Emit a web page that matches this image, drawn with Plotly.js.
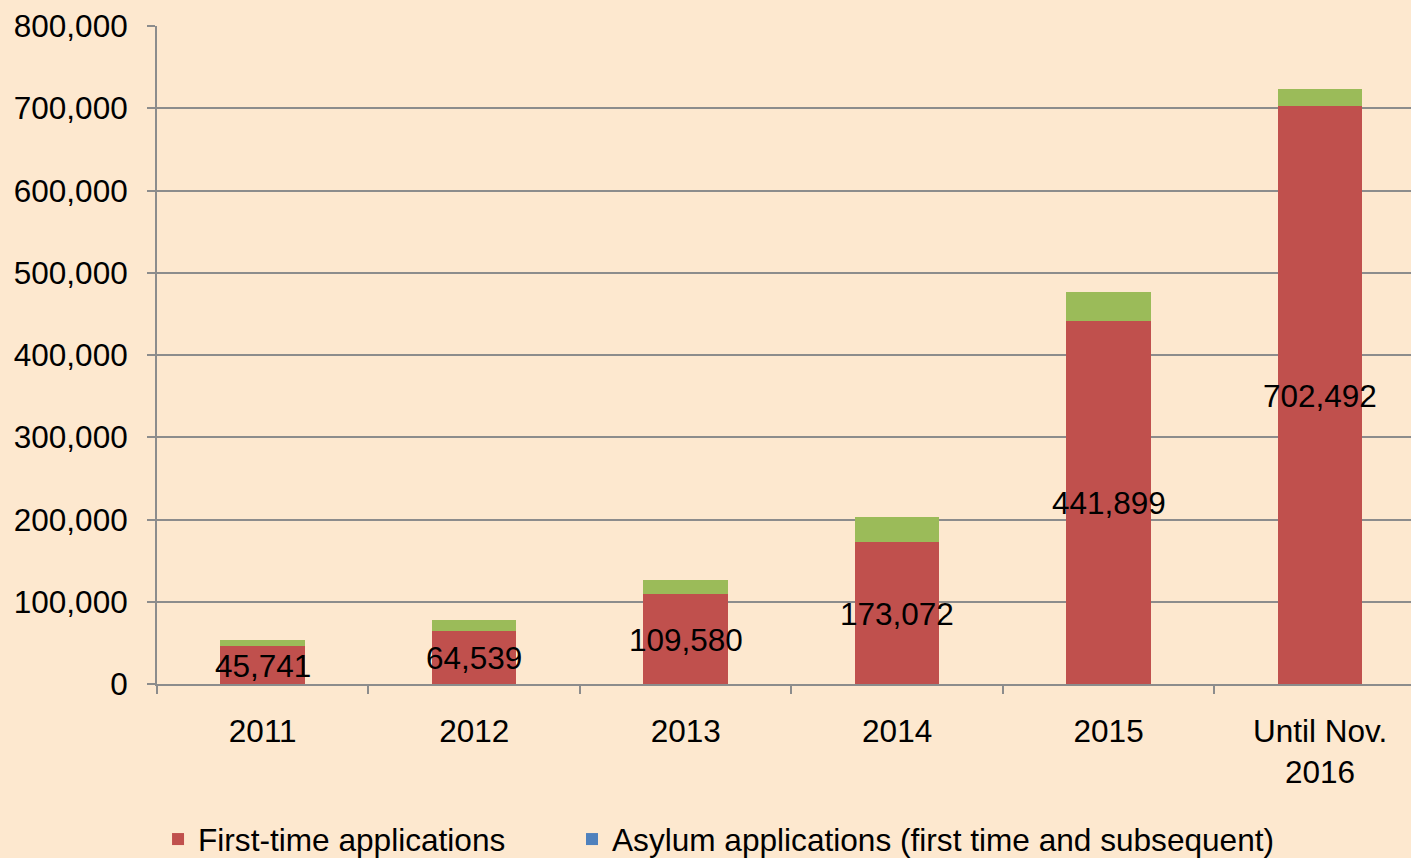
<!DOCTYPE html>
<html>
<head>
<meta charset="utf-8">
<script src="https://cdn.plot.ly/plotly-3.0.1.min.js"></script>
<style>html,body{margin:0;padding:0;background:#FDE8CF;}#chart{width:1411px;height:858px;}</style>
</head>
<body>
<div id="chart"></div>
<script>
var categories = ["2011", "2012", "2013", "2014", "2015", "Until Nov.<br>2016"];
var firstTime = [45741, 64539, 109580, 173072, 441899, 702492];
var totalApps = [53347, 77651, 127023, 202834, 476649, 723027];
var legendNames = ["First-time applications", "Asylum applications (first time and subsequent)"];

var subsequent = totalApps.map(function(t, i){ return t - firstTime[i]; });
var labelY = firstTime.map(function(v){ return v / 2; });
var labelText = firstTime.map(function(v){ return v.toLocaleString('en-US'); });

var font = "Liberation Sans, Arial, sans-serif";
var traces = [
  {type:'bar', x:categories, y:firstTime, name:legendNames[0], legend:'legend', marker:{color:'#C0504D'}, hoverinfo:'y'},
  {type:'bar', x:categories, y:subsequent, name:'Subsequent', showlegend:false, marker:{color:'#9BBB59'}, hoverinfo:'y'},
  {type:'bar', x:categories, y:categories.map(function(){return null;}), name:legendNames[1], legend:'legend2', marker:{color:'#4F81BD'}}
];

// category axis: annotation x given as category index
var annotations = categories.map(function(c, i){
  return {x:i, y:labelY[i], xref:'x', yref:'y', text:labelText[i], showarrow:false, yshift:-1,
          font:{family:font, size:31.5, color:'#000'}};
});

var legendBase = {orientation:'h', xref:'container', yref:'container', y:0.0536, xanchor:'left', yanchor:'top',
                  font:{family:font, size:31.6, color:'#000'}, bgcolor:'rgba(0,0,0,0)'};
var layout = {
  width:1411, height:858,
  paper_bgcolor:'#FDE8CF', plot_bgcolor:'#FDE8CF',
  margin:{l:157, r:0, t:26, b:174},
  barmode:'stack', bargap:0.6,
  font:{family:font, size:31.5, color:'#000'},
  xaxis:{type:'category', range:[-0.5, 5.43], autorange:false, showline:true, linecolor:'#8C8C8C', linewidth:2,
         ticks:'outside', tickson:'boundaries', ticklen:8, tickcolor:'#8C8C8C', tickwidth:2,
         showgrid:false, ticklabelstandoff:18, tickfont:{family:font, size:31.5}},
  yaxis:{range:[0, 800000], autorange:false, dtick:100000, tickformat:',d', showline:true, linecolor:'#8C8C8C', linewidth:2,
         ticks:'outside', ticklen:8, tickcolor:'#8C8C8C', tickwidth:2, gridcolor:'#8C8C8C', gridwidth:2,
         zeroline:false, ticklabelstandoff:13, tickfont:{family:font, size:31.5}},
  annotations:annotations,
  showlegend:true,
  legend:Object.assign({}, legendBase, {x:0.112}),
  legend2:Object.assign({}, legendBase, {x:0.4054})
};

Plotly.newPlot('chart', traces, layout, {displayModeBar:false, staticPlot:true});
</script>
</body>
</html>
